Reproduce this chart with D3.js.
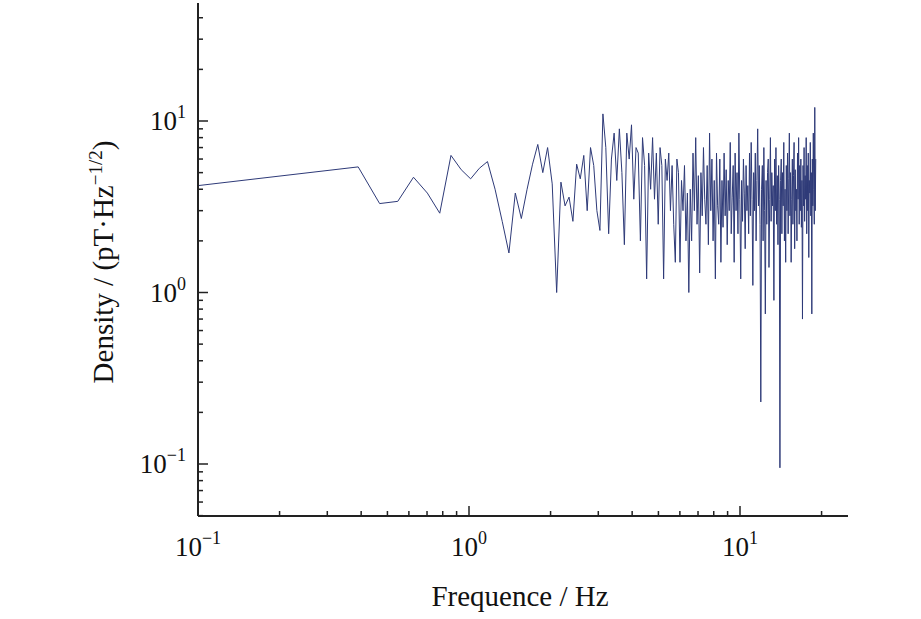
<!DOCTYPE html>
<html><head><meta charset="utf-8">
<script src="https://cdn.jsdelivr.net/npm/d3@7"></script>
<style>body{margin:0;background:#fff}text{font-family:"Liberation Serif","Times New Roman",serif;fill:#111}</style>
</head><body><svg id="c" width="921" height="619"></svg>
<script>
const firstFreq = 0.1, firstValue = 4.2;
const df = 0.078, startIndex = 5;
const values = [
5.4,3.3,3.4,4.7,3.8,2.9,6.3,5.2,4.6,5.3,
5.8,4.0,2.6,1.7,3.8,2.7,4.0,5.6,7.3,5.0,
7.0,4.3,1.0,4.4,3.2,3.6,2.6,5.6,4.6,6.3,
3.0,7.0,5.5,3.0,2.3,11.0,7.0,2.2,6.0,8.5,
4.5,9.0,5.0,1.9,8.5,6.0,9.5,3.5,7.0,6.5,
2.0,8.0,5.5,1.2,6.5,4.0,8.0,3.5,6.5,2.5,
7.0,5.5,1.2,6.0,4.5,6.5,3.0,5.5,2.5,1.5,
6.0,5.0,1.5,4.5,3.0,5.5,2.0,3.8,1.0,4.0,
2.0,6.5,3.0,8.0,2.5,4.8,1.3,5.0,2.8,7.0,
3.5,2.5,5.5,1.9,8.5,3.0,6.0,2.0,4.5,1.2,
6.5,3.2,2.5,6.0,1.5,4.5,2.4,6.5,2.8,5.2,
1.9,4.5,3.0,7.5,2.2,3.6,5.5,1.5,6.5,3.0,
5.0,2.2,8.5,3.5,1.2,4.5,2.6,6.0,3.8,1.8,
5.5,3.0,4.2,2.2,6.5,2.8,7.5,3.5,1.1,5.0,
3.0,6.5,2.0,4.5,9.0,3.2,5.5,2.5,0.23,4.0,
5.5,2.0,7.0,3.0,0.75,4.5,2.5,5.0,6.0,1.4,
3.5,8.0,2.6,5.0,3.2,4.2,0.9,6.0,3.0,7.0,
2.5,4.8,1.9,5.5,3.5,0.095,4.5,6.0,2.2,5.0,
3.2,7.5,2.0,4.0,1.5,5.5,3.0,6.5,2.2,4.6,
8.5,2.8,5.0,1.5,3.5,6.0,2.5,4.8,7.5,1.8,
5.2,3.0,4.0,2.0,6.5,3.5,8.0,2.5,5.5,3.0,
6.0,2.4,4.5,0.7,5.5,3.2,7.0,2.6,4.8,3.5,
8.0,2.2,5.5,3.0,6.5,1.6,4.5,3.8,7.5,2.8,
5.0,0.75,6.0,3.2,8.5,4.0,2.5,12.0,3.0,6.0
];
const data = [[firstFreq, firstValue]].concat(values.map((v,i)=>[(startIndex+i)*df, v]));

const svg = d3.select("#c");
const L=198, R=848, T=3, B=516;
const x = d3.scaleLog().domain([0.1, 10**(1+108/271)]).range([L,R]);
const y = d3.scaleLog().range([B,T]);
y.domain([10**(-1-(B-464)/171.5), 10**(1+(121-T)/171.5)]);

const pathColor = "#2e3a78";
svg.append("path").datum(data).attr("fill","none").attr("stroke",pathColor).attr("stroke-width",1)
  .attr("d", d3.line().x(d=>x(d[0])).y(d=>y(d[1])));

const g = svg.append("g").attr("stroke","#222").attr("stroke-width",2);
g.append("line").attr("x1",L).attr("x2",R).attr("y1",B).attr("y2",B);
g.append("line").attr("x1",L).attr("x2",L).attr("y1",T).attr("y2",B);

const xt = x.ticks().filter(v=>v>=0.1);
xt.forEach(v=>{const isMaj=Math.abs(Math.log10(v)-Math.round(Math.log10(v)))<1e-9;
  g.append("line").attr("x1",x(v)).attr("x2",x(v)).attr("y1",B).attr("y2",B-(isMaj?10:5)).attr("stroke-width",1.5);});
const yt = y.ticks();
yt.forEach(v=>{const isMaj=Math.abs(Math.log10(v)-Math.round(Math.log10(v)))<1e-9;
  g.append("line").attr("y1",y(v)).attr("y2",y(v)).attr("x1",L).attr("x2",L+(isMaj?10:5)).attr("stroke-width",1.5);});

const xLabels = [[0.1,"−1"],[1,"0"],[10,"1"]];
xLabels.forEach(([v,e])=>{const t=svg.append("text").attr("x",x(v)).attr("y",556).attr("text-anchor","middle").attr("font-size",27);
  t.append("tspan").text("10"); t.append("tspan").attr("dy",-12).attr("font-size",18).text(e);});
const yLabels = [[10,"1"],[1,"0"],[0.1,"−1"]];
yLabels.forEach(([v,e])=>{const t=svg.append("text").attr("x",186).attr("y",y(v)+9).attr("text-anchor","end").attr("font-size",27);
  t.append("tspan").text("10"); t.append("tspan").attr("dy",-12).attr("font-size",18).text(e);});

svg.append("text").attr("x",520).attr("y",606).attr("text-anchor","middle").attr("font-size",29).text("Frequence / Hz");
const yl = svg.append("text").attr("transform","translate(113,262) rotate(-90)").attr("text-anchor","middle").attr("font-size",29);
yl.append("tspan").text("Density / (pT·Hz");
yl.append("tspan").attr("dy",-11).attr("font-size",19).text("−1/2");
yl.append("tspan").attr("dy",11).text(")");
</script></body></html>
